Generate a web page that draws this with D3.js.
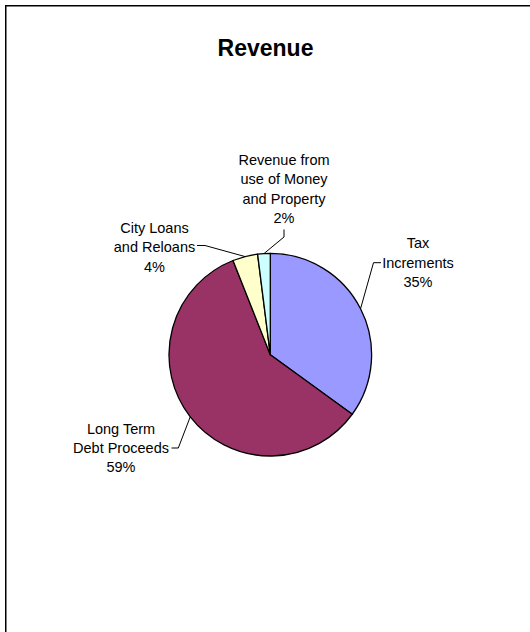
<!DOCTYPE html>
<html>
<head>
<meta charset="utf-8">
<script src="https://cdn.jsdelivr.net/npm/d3@7"></script>
<style>
  html, body { margin: 0; padding: 0; background: #fff; }
  svg { display: block; }
  text { font-family: "Liberation Sans", Arial, Helvetica, sans-serif; fill: #000; }
</style>
</head>
<body>
<svg id="chart" width="530" height="632"></svg>
<script>
// Revenue sources and their shares (percent)
const categories = [
  "Tax Increments",
  "Long Term Debt Proceeds",
  "City Loans and Reloans",
  "Revenue from use of Money and Property"
];
const shares = [35, 59, 4, 2];
const labelLines = [
  ["Tax", "Increments"],
  ["Long Term", "Debt Proceeds"],
  ["City Loans", "and Reloans"],
  ["Revenue from", "use of Money", "and Property"]
];
const sliceColors = ["#9999FF", "#993366", "#FFFFCC", "#CCFFFF"];

// Label block placement: text centre x, first line centre y, leader elbow and end
const labelLayout = [
  { x: 418,   y: 243.4, elbow: [373.5, 262.7], end: [381, 262.7] },
  { x: 121,   y: 428.7, elbow: [178.3, 448],   end: [171.5, 448] },
  { x: 154.5, y: 228,   elbow: [205, 245.5],   end: [197, 245.5] },
  { x: 284,   y: 160,   elbow: [284, 237],     end: [284, 229.5] }
];

const W = 530, H = 632;
const cx = 270.3, cy = 354.7, R = 101.3;
const lineGap = 19.3;
const fontSize = 14.5;

const svg = d3.select("#chart");

// Outer frame (right and bottom edges run past the canvas)
svg.append("rect")
  .attr("x", 5.75).attr("y", 5.75)
  .attr("width", W + 20).attr("height", H + 20)
  .attr("fill", "#fff")
  .attr("stroke", "#000")
  .attr("stroke-width", 1.5);

// Title
svg.append("text")
  .attr("x", 265.5).attr("y", 56)
  .attr("text-anchor", "middle")
  .style("font-size", "23px")
  .style("font-weight", "bold")
  .text("Revenue");

const data = categories.map((c, i) => ({ name: c, value: shares[i], i }));
const total = d3.sum(shares);

const pie = d3.pie().value(d => d.value).sort(null);
const arcs = pie(data);
const arc = d3.arc().innerRadius(0).outerRadius(R);
const edgeArc = d3.arc().innerRadius(R).outerRadius(R);

const g = svg.append("g").attr("transform", `translate(${cx},${cy})`);

g.selectAll("path.slice")
  .data(arcs)
  .join("path")
  .attr("class", "slice")
  .attr("d", arc)
  .attr("fill", d => sliceColors[d.data.i])
  .attr("stroke", "#000")
  .attr("stroke-width", 1.3)
  .attr("stroke-linejoin", "round");

// Leader lines from each slice's rim midpoint to its label
arcs.forEach(d => {
  const lay = labelLayout[d.data.i];
  const [px, py] = edgeArc.centroid(d);
  const pts = [[cx + px, cy + py], lay.elbow, lay.end];
  svg.append("path")
    .attr("d", d3.line()(pts))
    .attr("fill", "none")
    .attr("stroke", "#000")
    .attr("stroke-width", 1);
});

// Category labels with percentages
arcs.forEach(d => {
  const lay = labelLayout[d.data.i];
  const lines = labelLines[d.data.i].concat([Math.round(d.data.value / total * 100) + "%"]);
  const t = svg.append("text")
    .attr("text-anchor", "middle")
    .style("font-size", fontSize + "px");
  lines.forEach((s, k) => {
    t.append("tspan")
      .attr("x", lay.x)
      .attr("y", lay.y + k * lineGap)
      .attr("dy", "0.35em")
      .text(s);
  });
});
</script>
</body>
</html>
